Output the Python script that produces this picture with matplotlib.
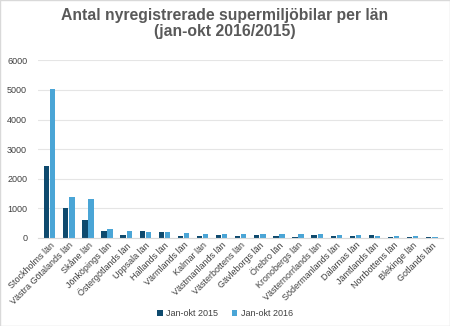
import matplotlib.pyplot as plt
import numpy as np

plt.rcParams["font.family"] = ["Liberation Sans", "DejaVu Sans"]

lan = [
    "Stockholms län", "Västra Götalands län", "Skåne län", "Jönköpings län",
    "Östergötlands län", "Uppsala län", "Hallands län", "Värmlands län",
    "Kalmar län", "Västmanlands län", "Västerbottens län", "Gävleborgs län",
    "Örebro län", "Kronobergs län", "Västernorrlands län", "Södermanlands län",
    "Dalarnas län", "Jämtlands län", "Norrbottens län", "Blekinge län",
    "Gotlands län",
]
jan_okt_2015 = [2430, 1010, 600, 225, 100, 220, 190, 70, 50, 90, 60, 90,
                80, 30, 90, 80, 70, 110, 40, 40, 30]
jan_okt_2016 = [5040, 1380, 1310, 320, 235, 215, 200, 160, 140, 140, 130, 130,
                140, 130, 120, 110, 100, 80, 60, 60, 20]

dark = "#0E4A6E"
light = "#4AA5D6"
grey = "#595959"

fig = plt.figure(figsize=(4.5, 3.26), dpi=100)
ax = fig.add_axes([0.085, 0.27, 0.90, 0.545])

x = np.arange(len(lan))
w = 0.28
ax.bar(x - w / 2 - 0.02, jan_okt_2015, w, color=dark, label="Jan-okt 2015")
ax.bar(x + w / 2 + 0.02, jan_okt_2016, w, color=light, label="Jan-okt 2016")

ax.set_ylim(0, 6000)
ax.set_yticks(range(0, 6001, 1000))
ax.set_xlim(-0.6, len(lan) - 0.4)
ax.set_xticks(x)
ax.set_xticklabels(lan, rotation=45, ha="right", rotation_mode="anchor",
                   fontsize=6.5, color="#404040")
ax.tick_params(axis="y", labelsize=6.5, labelcolor="#404040", length=0, pad=8)
ax.tick_params(axis="x", length=0, pad=2)
ax.grid(axis="y", color="#E5E5E5", linewidth=0.8)
ax.set_axisbelow(True)
for s in ["top", "right", "left"]:
    ax.spines[s].set_visible(False)
ax.spines["bottom"].set_color("#D9D9D9")

fig.suptitle("Antal nyregistrerade supermiljöbilar per län\n(jan-okt 2016/2015)",
             fontsize=11.3, fontweight="bold", color=grey, y=0.975,
             linespacing=1.1)

fig.legend(loc="lower center", ncol=2, frameon=False, fontsize=6.5,
           bbox_to_anchor=(0.5, 0.0), handlelength=0.6, handleheight=0.6,
           columnspacing=1.5, handletextpad=0.4, labelcolor="#404040")

fig.patches.append(plt.Rectangle((0, 0), 1, 1, transform=fig.transFigure,
                                 fill=False, edgecolor="#D9D9D9", linewidth=1))

fig.savefig("out.png", dpi=100)
